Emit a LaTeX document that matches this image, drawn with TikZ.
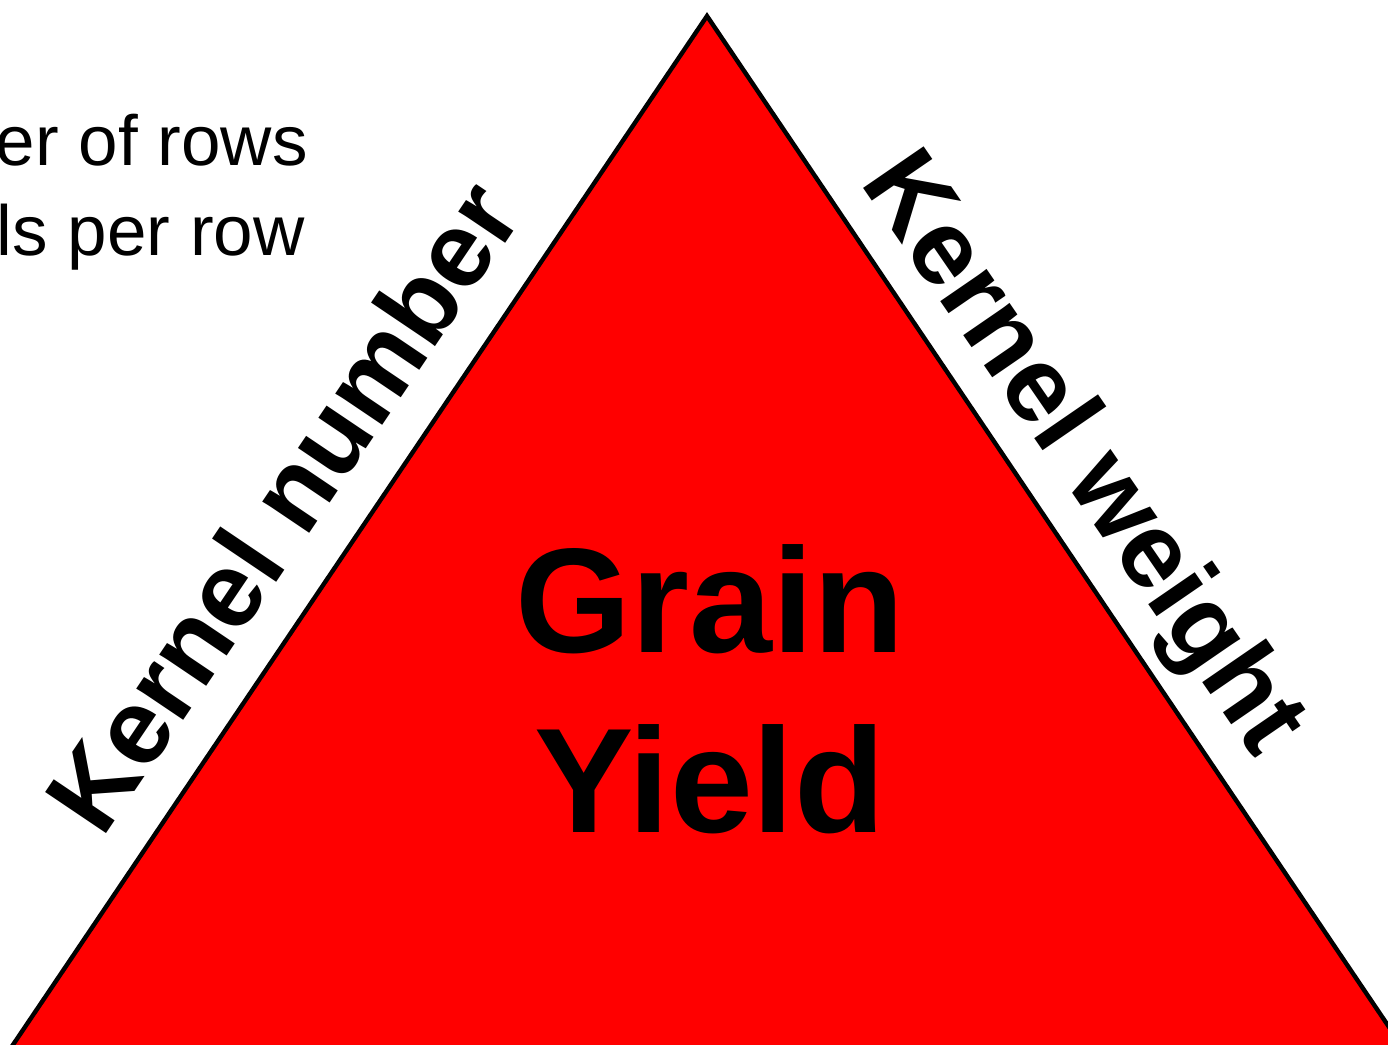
\documentclass[tikz,border=0pt]{standalone}
\usepackage{fontspec}
\setmainfont{Liberation Sans}
\usetikzlibrary{positioning}

\begin{document}
\begin{tikzpicture}[
  x=0.5pt, y=-0.5pt,
  side/.style={font=\fontsize{53.4}{60}\selectfont\bfseries, inner sep=0pt},
  yieldtext/.style={font=\fontsize{74.5}{90}\selectfont\bfseries, align=center, inner sep=0pt},
  trait/.style={font=\fontsize{35.5}{45}\selectfont, inner sep=0pt, anchor=base east},
]
\clip (0,0) rectangle (1388,1045);
% triangle, cut off at the bottom
\draw[line width=2.2pt, fill=red] (707,16) -- (1445,1110) -- (-31,1110) -- cycle;
\node[yieldtext] (yield) at (710,689) {Grain\\Yield};
\node[side, rotate=56] (knum) at (282,506) {Kernel number};
\node[side, rotate=-55.5] (kwt) at (1080,456) {Kernel weight};
\node[trait] (rows) at (308,165) {er of rows};
\node[trait] (perrow) at (305,255) {ls per row};
\end{tikzpicture}
\end{document}
